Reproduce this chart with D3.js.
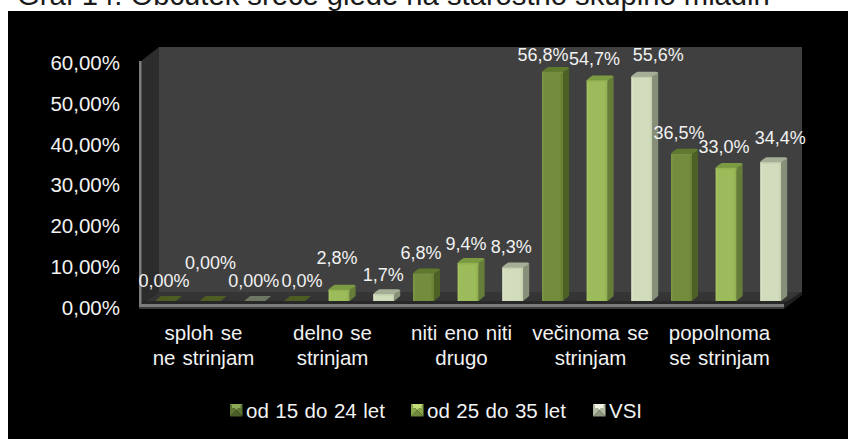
<!DOCTYPE html>
<html><head><meta charset="utf-8">
<script src="https://cdn.jsdelivr.net/npm/d3@7/dist/d3.min.js"></script>
<style>html,body{margin:0;padding:0;background:#fff;overflow:hidden}svg{display:block}text{font-family:"Liberation Sans",Arial,sans-serif}</style>
</head><body><svg id="c" width="848" height="439"></svg>
<script>
const titleText = "Graf 14: Občutek sreče glede na starostno skupino mladih";
const categories = ["sploh se|ne strinjam","delno se|strinjam","niti eno niti|drugo","večinoma se|strinjam","popolnoma|se strinjam"];
const seriesNames = ["od 15 do 24 let","od 25 do 35 let","VSI"];
const youngValues = [0, 0, 6.8, 56.8, 36.5];
const olderValues = [0, 2.8, 9.4, 54.7, 33.0];
const allValues   = [0, 1.7, 8.3, 55.6, 34.4];
const youngLabels = ["0,00%","0,0%","6,8%","56,8%","36,5%"];
const olderLabels = ["0,00%","2,8%","9,4%","54,7%","33,0%"];
const allLabels   = ["0,00%","1,7%","8,3%","55,6%","34,4%"];
const yTicks = [0,10,20,30,40,50,60];

// hand-placed label nudges of the original chart, relative to each bar
const youngNudge = [[-4.5,-20],[4.5,-20],[-5.5,-20.6],[-12.5,-17],[-5.5,-20.8]];
const olderNudge = [[-2.5,-38],[-5,-31.7],[-5,-20],[-5.5,-21.4],[-5,-20.9]];
const allNudge   = [[-4,-20],[-3.5,-20],[-4.5,-21.5],[13.5,-21.8],[6.5,-24.3]];

const seriesValues = [youngValues, olderValues, allValues];
const seriesLabels = [youngLabels, olderLabels, allLabels];
const seriesNudges = [youngNudge, olderNudge, allNudge];

const palette = [
  {front:"#738c3d", edgeL:"#7f9a45", edgeR:"#66802f", side:"#4d6026", cap:"#5f7a2f", flat:"#4d5c24", hi:"#748f42", sw:["#8ea85a","#5d7331","#4a5c27","#5d7331","#6f8a3c"]},
  {front:"#9cbb5a", edgeL:"#a9c865", edgeR:"#8fae4e", side:"#657d39", cap:"#7b9a42", flat:"#4d5c24", hi:"#93b44f", sw:["#c2dc7c","#87a64a","#6f8a3c","#87a64a","#a4c35d"]},
  {front:"#d2ddbd", edgeL:"#dfe8cc", edgeR:"#c6d2ae", side:"#878f79", cap:"#a5ae97", flat:"#6d7763", hi:"#c5d0b0", sw:["#eef3e2","#b3bca3","#8e9780","#b3bca3","#d4dec0"]}
];
const txt = "#f2f2f2";

const svg = d3.select("#c");
const defs = svg.append("defs");
palette.forEach((p,i)=>{
  const g = defs.append("linearGradient").attr("id","bar"+i);
  [[0,p.edgeL],[0.12,p.front],[0.82,p.front],[1,p.edgeR]].forEach(s=>g.append("stop").attr("offset",s[0]).attr("stop-color",s[1]));
});
const floorGrad = defs.append("linearGradient").attr("id","floor").attr("x1",0).attr("x2",0).attr("y1",0).attr("y2",1);
[[0,"#363636"],[0.75,"#333333"],[0.76,"#282828"],[1,"#282828"]].forEach(s=>floorGrad.append("stop").attr("offset",s[0]).attr("stop-color",s[1]));
defs.append("filter").attr("id","soft").attr("x","-10%").attr("y","-10%").attr("width","120%").attr("height","120%")
  .append("feGaussianBlur").attr("stdDeviation",0.45);

// title (cut by the chart panel, as in the source)
svg.append("text").attr("x",17).attr("y",4.5).attr("font-size",29.2).attr("fill","#1a1a1a").text(titleText);
// panel
svg.append("rect").attr("x",8).attr("y",11).attr("width",840).attr("height",428).attr("fill","#000");

const plot = {left:139,right:784,back:18};
const x0 = d3.scaleBand().domain(categories).range([plot.left,plot.right]);
const x1 = d3.scaleBand().domain(d3.range(3)).range([16,126.2]).paddingInner(0.529);
const yAxisScale = d3.scaleLinear().domain([0,60]).range([307.5,62.5]);
const yBar = d3.scaleLinear().domain([0,60]).range([301,59]);
const capW = 6, capH = 5;

// walls & floor
const wallR = plot.right+plot.back, wallL = plot.left+20;
const wallTop = 47, wallBottom = 292, frontY = 304;
svg.append("rect").attr("x",wallL).attr("y",wallTop).attr("width",wallR-wallL).attr("height",wallBottom-wallTop).attr("fill","#404040");
const line = d3.line();
svg.append("path").attr("d",line([[141,61],[wallL,wallTop],[wallL,wallBottom],[141,frontY]])+"Z").attr("fill","#2c2c2c");
svg.append("path").attr("d",line([[141,frontY],[wallL,wallBottom],[wallR,wallBottom],[plot.right,frontY]])+"Z").attr("fill","url(#floor)");
svg.append("path").attr("d",line([[plot.right,frontY],[wallR,wallBottom],[wallR,wallBottom+3],[plot.right,frontY+5]])+"Z").attr("fill","#1f1f1f");
svg.append("rect").attr("x",139).attr("y",61).attr("width",2.5).attr("height",246).attr("fill","#7c7c7c");
svg.append("rect").attr("x",139).attr("y",304).attr("width",plot.right-139).attr("height",3).attr("fill","#7c7c7c");
svg.append("rect").attr("x",139).attr("y",307).attr("width",plot.right-139).attr("height",2).attr("fill","#3a3a3a");

// bars
const gBars = svg.append("g").attr("filter","url(#soft)");
const rows = [];
categories.forEach((c,ci)=>seriesValues.forEach((vals,si)=>rows.push({c,ci,si,v:vals[ci],label:seriesLabels[si][ci],nudge:seriesNudges[si][ci]})));
const bw = x1.bandwidth();
rows.forEach(d=>{
  const X = x0(d.c)+x1(d.si), yT = yBar(d.v), yB = yBar(0), p = palette[d.si];
  const g = gBars.append("g");
  if(d.v===0){
    g.append("path").attr("d",line([[X,yB],[X+bw,yB],[X+bw+capW,yB-capH],[X+capW,yB-capH]])+"Z").attr("fill",p.flat);
    return;
  }
  g.append("path").attr("d",line([[X+bw,yT],[X+bw+capW,yT-capH+1],[X+bw+capW,yB-capH],[X+bw,yB]])+"Z").attr("fill",p.side);
  g.append("path").attr("d",`M${X},${yT}Q${X+1},${yT-2} ${X+capW},${yT-capH}L${X+bw+capW-2},${yT-capH}Q${X+bw+capW},${yT-capH} ${X+bw+capW},${yT-capH+1.5}L${X+bw},${yT}Z`).attr("fill",p.cap);
  g.append("rect").attr("x",X).attr("y",yT).attr("width",bw).attr("height",yB-yT).attr("fill",`url(#bar${d.si})`);
  g.append("rect").attr("x",X).attr("y",yT).attr("width",bw).attr("height",1.5).attr("fill",p.hi);
});

// axes
const yAxis = svg.append("g").attr("transform","translate(120,0)")
  .call(d3.axisLeft(yAxisScale).tickValues(yTicks).tickSize(0).tickPadding(0).tickFormat(d=>d3.format(".2f")(d).replace(".",",")+"%"));
yAxis.select(".domain").remove();
yAxis.selectAll("text").attr("font-size",20.5).attr("font-family",'"Liberation Sans"').attr("fill",txt).attr("dy","0.34em");

const xAxis = svg.append("g").attr("transform","translate(0,318)")
  .call(d3.axisBottom(x0).tickSize(0).tickPadding(0).tickFormat(""));
xAxis.select(".domain").remove();
xAxis.selectAll(".tick").each(function(c){
  const t = d3.select(this).select("text").attr("y",0).attr("dy",null).attr("font-size",20.5).attr("font-family",'"Liberation Sans"').attr("fill",txt).attr("text-anchor","middle").attr("word-spacing",1.5);
  c.split("|").forEach((s,i)=>t.append("tspan").attr("x",0).attr("y",22+i*25).text(s));
});

// data labels
svg.append("g").selectAll("text").data(rows).join("text")
  .attr("x",d=>x0(d.c)+x1(d.si)+(bw+capW)/2+d.nudge[0])
  .attr("y",d=>yBar(d.v)+d.nudge[1])
  .attr("dy","0.36em").attr("text-anchor","middle").attr("font-size",18).attr("fill",txt).text(d=>d.label);

// legend
const legendX = d3.scaleOrdinal().domain(seriesNames).range([230,411,593]);
const s = 12.5, ly = 404;
const lg = svg.append("g").selectAll("g").data(seriesNames).join("g").attr("transform",d=>`translate(${legendX(d)},${ly})`);
lg.each(function(name,i){
  const g = d3.select(this), c = palette[i].sw, m = s/2;
  [[[0,0],[s,0],[m,m]],[[s,0],[s,s],[m,m]],[[s,s],[0,s],[m,m]],[[0,s],[0,0],[m,m]]].forEach((pts,k)=>
    g.append("path").attr("d",line(pts)+"Z").attr("fill",c[k]));
  g.append("rect").attr("x",2).attr("y",2).attr("width",s-4).attr("height",2).attr("fill",c[0]);
  g.append("text").attr("x",s+3.5).attr("y",7).attr("dy","0.35em").attr("font-size",20.5).attr("word-spacing",0.8).attr("fill",txt).text(name);
});
</script></body></html>
